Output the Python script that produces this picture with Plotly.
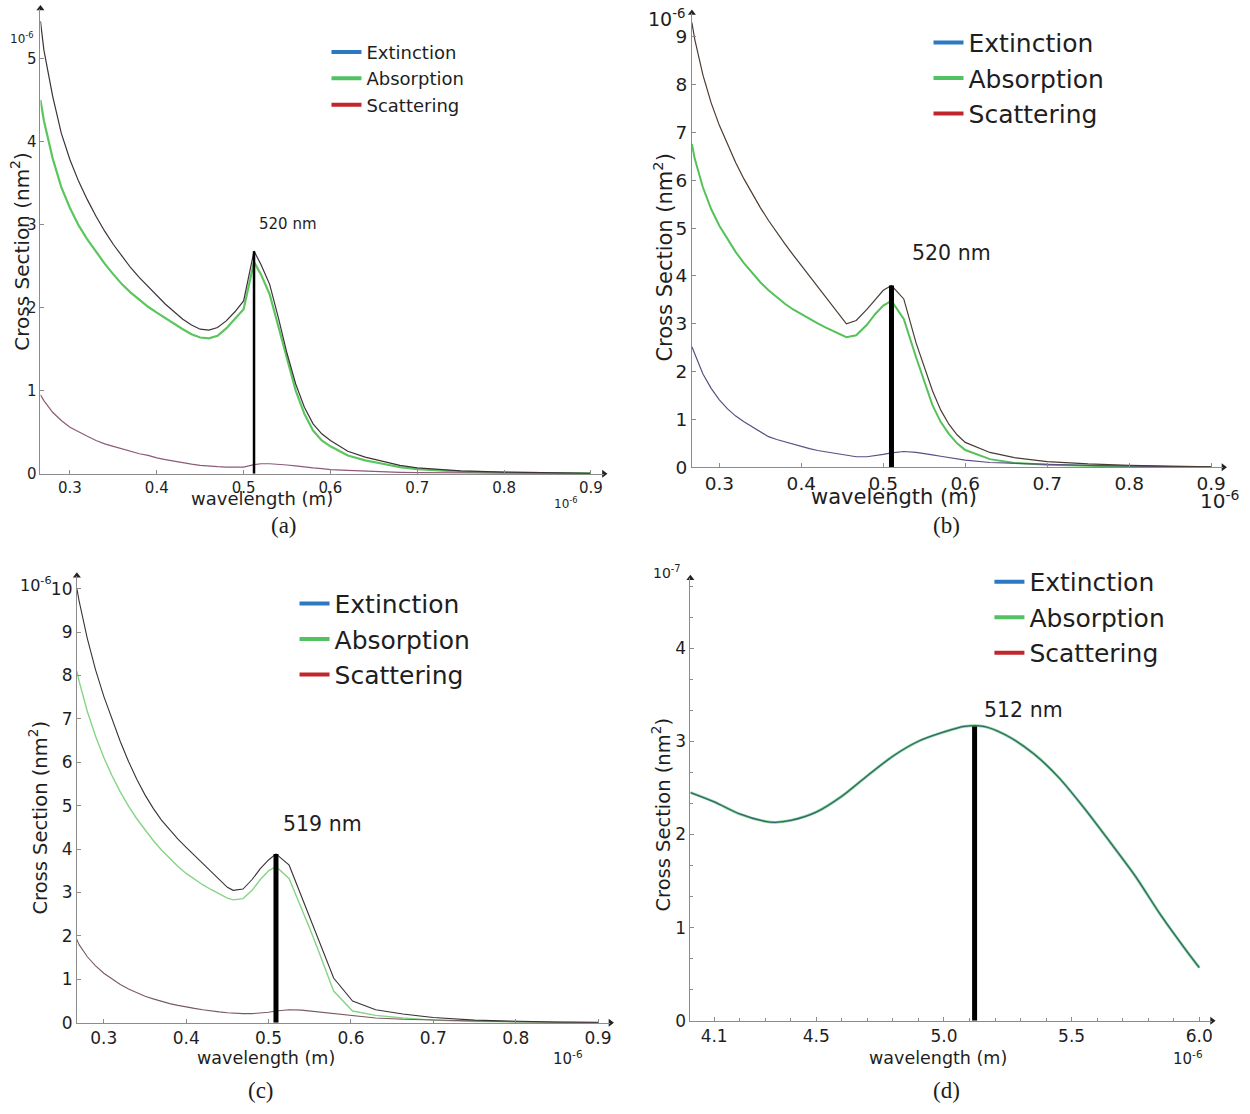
import plotly.graph_objects as go

W, H = 1250, 1114

# ---------------- data ----------------
series_names = ["Extinction", "Absorption", "Scattering"]
legend_colors = ["#2b79c2", "#52c162", "#c1262c"]

# panel (a)
wl_a = [0.266, 0.27, 0.28, 0.29, 0.30, 0.31, 0.32, 0.33, 0.34, 0.35, 0.36, 0.37, 0.38, 0.39, 0.40,
        0.41, 0.42, 0.43, 0.44, 0.45, 0.46, 0.47, 0.48, 0.49, 0.50, 0.512, 0.52, 0.53, 0.54, 0.55,
        0.56, 0.57, 0.58, 0.59, 0.60, 0.62, 0.64, 0.66, 0.68, 0.70, 0.75, 0.80, 0.85, 0.90]
ext_a = [5.45, 5.1, 4.55, 4.1, 3.78, 3.52, 3.3, 3.1, 2.92, 2.76, 2.62, 2.48, 2.36, 2.25, 2.14,
         2.04, 1.95, 1.86, 1.79, 1.74, 1.73, 1.76, 1.84, 1.95, 2.08, 2.68, 2.52, 2.28, 1.88, 1.45,
         1.08, 0.8, 0.6, 0.48, 0.4, 0.27, 0.2, 0.15, 0.1, 0.07, 0.035, 0.02, 0.01, 0.005]
abs_a = [4.5, 4.25, 3.8, 3.45, 3.2, 2.99, 2.82, 2.67, 2.53, 2.4, 2.28, 2.18, 2.09, 2.01, 1.94,
         1.87, 1.8, 1.74, 1.68, 1.64, 1.63, 1.66, 1.75, 1.86, 1.98, 2.55, 2.4, 2.16, 1.77, 1.36,
         1.0, 0.72, 0.52, 0.4, 0.33, 0.22, 0.16, 0.12, 0.08, 0.055, 0.025, 0.012, 0.006, 0.003]
sca_a = [0.95, 0.88, 0.74, 0.64, 0.56, 0.5, 0.45, 0.4, 0.36, 0.33, 0.3, 0.27, 0.24, 0.22, 0.19,
         0.17, 0.15, 0.13, 0.115, 0.1, 0.09, 0.085, 0.08, 0.08, 0.08, 0.11, 0.12, 0.12, 0.115, 0.105,
         0.095, 0.08, 0.07, 0.06, 0.05, 0.04, 0.03, 0.022, 0.017, 0.013, 0.008, 0.005, 0.003, 0.002]

# panel (b)
wl_b = [0.2665, 0.27, 0.28, 0.29, 0.30, 0.31, 0.32, 0.33, 0.34, 0.35, 0.36, 0.37, 0.38, 0.39, 0.40,
        0.41, 0.42, 0.43, 0.44, 0.45, 0.455, 0.467, 0.48, 0.49, 0.50, 0.51, 0.525, 0.54, 0.55, 0.56,
        0.57, 0.58, 0.59, 0.60, 0.63, 0.66, 0.70, 0.75, 0.80, 0.85, 0.90]
ext_b = [9.3, 8.95, 8.2, 7.62, 7.15, 6.74, 6.37, 6.03, 5.72, 5.43, 5.16, 4.91, 4.67, 4.44, 4.22,
         4.0, 3.78, 3.55, 3.32, 3.1, 3.0, 3.07, 3.3, 3.5, 3.7, 3.8, 3.52, 2.6, 2.1, 1.6,
         1.2, 0.9, 0.68, 0.52, 0.31, 0.2, 0.12, 0.07, 0.04, 0.02, 0.01]
abs_b = [6.76, 6.45, 5.85, 5.4, 5.05, 4.76, 4.5, 4.27, 4.06, 3.87, 3.7, 3.55, 3.42, 3.3, 3.2,
         3.1, 3.01, 2.92, 2.84, 2.76, 2.72, 2.76, 2.98, 3.2, 3.38, 3.48, 3.1, 2.3, 1.78, 1.3,
         0.95, 0.7, 0.5, 0.36, 0.17, 0.09, 0.05, 0.025, 0.012, 0.006, 0.003]
sca_b = [2.52, 2.38, 1.95, 1.65, 1.41, 1.22, 1.07, 0.95, 0.85, 0.74, 0.64, 0.58, 0.53, 0.48, 0.43,
         0.39, 0.35, 0.32, 0.29, 0.26, 0.25, 0.22, 0.22, 0.24, 0.27, 0.3, 0.33, 0.31, 0.29, 0.26,
         0.23, 0.2, 0.17, 0.15, 0.1, 0.08, 0.06, 0.04, 0.02, 0.012, 0.006]

# panel (c)
wl_c = [0.2673, 0.27, 0.28, 0.29, 0.30, 0.31, 0.32, 0.33, 0.34, 0.35, 0.36, 0.37, 0.38, 0.39, 0.40,
        0.41, 0.42, 0.43, 0.44, 0.45, 0.457, 0.469, 0.48, 0.49, 0.50, 0.509, 0.525, 0.54, 0.55, 0.56,
        0.57, 0.579, 0.602, 0.63, 0.663, 0.70, 0.75, 0.80, 0.85, 0.90]
ext_c = [10.0, 9.72, 8.85, 8.13, 7.52, 6.99, 6.48, 6.02, 5.61, 5.25, 4.94, 4.67, 4.44, 4.23, 4.04,
         3.86, 3.68, 3.5, 3.31, 3.12, 3.05, 3.08, 3.3, 3.55, 3.75, 3.89, 3.63, 2.91, 2.43, 1.94,
         1.46, 1.03, 0.5, 0.3, 0.2, 0.12, 0.06, 0.03, 0.015, 0.008]
abs_c = [8.1, 7.87, 7.17, 6.6, 6.11, 5.69, 5.32, 4.99, 4.7, 4.44, 4.2, 3.98, 3.78, 3.6, 3.44,
         3.3, 3.18, 3.07, 2.97, 2.87, 2.83, 2.86, 3.05, 3.3, 3.5, 3.6, 3.32, 2.65, 2.17, 1.69,
         1.2, 0.73, 0.27, 0.17, 0.11, 0.06, 0.03, 0.012, 0.006, 0.003]
sca_c = [1.92, 1.8, 1.52, 1.31, 1.14, 1.0, 0.88, 0.78, 0.69, 0.61, 0.55, 0.49, 0.44, 0.4, 0.36,
         0.33, 0.3, 0.27, 0.25, 0.23, 0.22, 0.21, 0.21, 0.22, 0.24, 0.27, 0.3, 0.29, 0.27, 0.25,
         0.22, 0.2, 0.15, 0.11, 0.08, 0.06, 0.04, 0.02, 0.01, 0.005]

# panel (d)
wl_d = [4.007, 4.1, 4.2, 4.3, 4.34, 4.4, 4.5, 4.6, 4.7, 4.8, 4.9, 5.0, 5.08, 5.155, 5.24, 5.35,
        5.45, 5.55, 5.65, 5.75, 5.85, 5.95, 6.0]
ext_d = [2.45, 2.35, 2.22, 2.14, 2.13, 2.15, 2.24, 2.41, 2.63, 2.84, 3.0, 3.1, 3.16, 3.16, 3.07,
         2.87, 2.61, 2.28, 1.92, 1.55, 1.13, 0.75, 0.57]
abs_d = [2.45, 2.35, 2.22, 2.14, 2.13, 2.15, 2.24, 2.41, 2.63, 2.84, 3.0, 3.1, 3.16, 3.16, 3.07,
         2.87, 2.61, 2.28, 1.92, 1.55, 1.13, 0.75, 0.57]

# resonance markers
peak_labels = ["520 nm", "520 nm", "519 nm", "512 nm"]
peak_wl = [0.512, 0.510, 0.509, 5.12]
peak_cs = [2.68, 3.8, 3.89, 3.16]

# tick labels
xticks_vis = [0.3, 0.4, 0.5, 0.6, 0.7, 0.8, 0.9]
xticks_vis_text = ["0.3", "0.4", "0.5", "0.6", "0.7", "0.8", "0.9"]
xticks_d = [4.1, 4.5, 5.0, 5.5, 6.0]
xticks_d_text = ["4.1", "4.5", "5.0", "5.5", "6.0"]
yticks_a = [0, 1, 2, 3, 4, 5]
yticks_b = [0, 1, 2, 3, 4, 5, 6, 7, 8, 9]
yticks_c = [0, 1, 2, 3, 4, 5, 6, 7, 8, 9, 10]
yticks_d = [0, 1, 2, 3, 4]

panel_letters = ["(a)", "(b)", "(c)", "(d)"]
y_exponents = ["10<sup>-6</sup>", "10<sup>-6</sup>", "10<sup>-6</sup>", "10<sup>-7</sup>"]

# ---------------- layout helpers ----------------
FONT = "DejaVu Sans"
SERIF = "Liberation Serif"
AXC = "#8c8c8c"
TXT = "#1e1e1e"


def px(xp):
    return xp / W


def py(yp):
    return 1 - yp / H


panels = [
    dict(box=(40.5, 604.9, 478, 8.7), xr=(0.266, 0.915), yr=(0, 5.6), xt=xticks_vis, xtt=xticks_vis_text,
         yt=yticks_a, tf=15, data=(wl_a, ext_a, abs_a, sca_a), pw=2.5,
         colors=("#3d3238", "#5cc65e", "#8c5a78"), widths=(1.2, 2.2, 1.2),
         ytitle=(20, 253, 20), xtitle=(262, 503, 18), xexp=(567, 508, 12), yexp=(22, 38, 12),
         plabel=(288, 226, 15), letter=(284, 530), legend=(327, 34, 18)),
    dict(box=(693.0, 1225.4, 471.5, 13.1), xr=(0.2665, 0.915), yr=(0, 9.5), xt=xticks_vis, xtt=xticks_vis_text,
         yt=yticks_b, tf=18.5, data=(wl_b, ext_b, abs_b, sca_b), pw=5,
         colors=("#4a3c32", "#55c259", "#5d4d82"), widths=(1.2, 2.0, 1.2),
         ytitle=(664, 260, 21), xtitle=(895, 502, 21), xexp=(1222, 505, 20), yexp=(668, 18, 19),
         plabel=(953, 255, 20.5), letter=(948, 530), legend=(930, 20, 25)),
    dict(box=(77.0, 611.4, 1032, 580.9), xr=(0.2673, 0.915), yr=(0, 10.3), xt=xticks_vis, xtt=xticks_vis_text,
         yt=yticks_c, tf=17, data=(wl_c, ext_c, abs_c, sca_c), pw=5,
         colors=("#3a3336", "#86d486", "#7a5a62"), widths=(1.1, 1.4, 1.1),
         ytitle=(38, 825, 19.5), xtitle=(266, 1068, 17.5), xexp=(569, 1068, 15), yexp=(36, 590, 16),
         plabel=(323, 831, 20.5), letter=(261, 1100), legend=(295, 586, 25)),
    dict(box=(691.5, 1214.0, 1030, 583.5), xr=(4.007, 6.05), yr=(0, 4.75), xt=xticks_d, xtt=xticks_d_text,
         yt=yticks_d, tf=17, data=(wl_d, ext_d, abs_d, None), pw=5,
         colors=("#2f6470", "#86d491", None), widths=(1.3, 2.8, 0),
         ytitle=(662, 822, 19.5), xtitle=(940, 1068, 17.5), xexp=(1190, 1068, 15), yexp=(668, 577, 14),
         plabel=(1025, 716, 20.5), letter=(948, 1100), legend=(991, 564, 25)),
]

fig = go.Figure()
layout = dict(width=W, height=H, margin=dict(l=0, r=0, t=0, b=0), paper_bgcolor="white",
              plot_bgcolor="white", showlegend=True, font=dict(family=FONT, color=TXT))
annotations = []


def note(x, y, text, size, family=FONT, angle=0):
    annotations.append(dict(x=px(x), y=py(y), xref="paper", yref="paper", showarrow=False,
                            xanchor="center", yanchor="middle", text=text, textangle=angle,
                            font=dict(family=family, size=size, color=TXT)))


for i, p in enumerate(panels):
    n = "" if i == 0 else str(i + 1)
    xa, ya = "x" + n, "y" + n
    x0, x1, yb, ytp = p["box"]
    axis_common = dict(showline=True, linecolor=AXC, linewidth=1, ticks="inside", ticklen=4,
                       tickcolor=AXC, showgrid=False, zeroline=False,
                       tickfont=dict(family=FONT, size=p["tf"], color=TXT), fixedrange=True)
    xaxis = dict(domain=[px(x0), px(x1)], range=list(p["xr"]), anchor=ya, tickmode="array",
                 tickvals=p["xt"], ticktext=p["xtt"], **axis_common)
    yaxis = dict(domain=[py(yb), py(ytp)], range=list(p["yr"]), anchor=xa, tickmode="array",
                 tickvals=p["yt"], ticktext=[str(v) for v in p["yt"]], **axis_common)
    if i == 3:
        xaxis["minor"] = dict(tickmode="linear", tick0=4.0, dtick=0.1, ticks="inside", ticklen=3,
                              tickcolor=AXC)
        yaxis["minor"] = dict(tickmode="linear", tick0=0, dtick=1 / 3, ticks="inside", ticklen=3,
                              tickcolor=AXC)
    layout["xaxis" + n] = xaxis
    layout["yaxis" + n] = yaxis

    wl, ext, ab, sc = p["data"]
    c_ext, c_abs, c_sca = p["colors"]
    w_ext, w_abs, w_sca = p["widths"]
    shape = dict(shape="spline", smoothing=0.8) if i == 3 else dict(shape="linear")
    fig.add_trace(go.Scatter(x=wl, y=ab, mode="lines", xaxis=xa, yaxis=ya, showlegend=False,
                             line=dict(color=c_abs, width=w_abs, **shape), hoverinfo="skip"))
    if sc is not None:
        fig.add_trace(go.Scatter(x=wl, y=sc, mode="lines", xaxis=xa, yaxis=ya, showlegend=False,
                                 line=dict(color=c_sca, width=w_sca, **shape), hoverinfo="skip"))
    fig.add_trace(go.Scatter(x=wl, y=ext, mode="lines", xaxis=xa, yaxis=ya, showlegend=False,
                             line=dict(color=c_ext, width=w_ext, **shape), hoverinfo="skip"))

    # resonance marker line
    fig.add_trace(go.Scatter(x=[peak_wl[i], peak_wl[i]], y=[0, peak_cs[i]], mode="lines", xaxis=xa,
                             yaxis=ya, showlegend=False, line=dict(color="black", width=p["pw"]),
                             hoverinfo="skip"))

    # axis arrowheads
    fig.add_trace(go.Scatter(x=[p["xr"][1]], y=[p["yr"][0]], mode="markers", xaxis=xa, yaxis=ya,
                             showlegend=False, cliponaxis=False, hoverinfo="skip",
                             marker=dict(symbol="triangle-right", size=7, color="#222")))
    fig.add_trace(go.Scatter(x=[p["xr"][0]], y=[p["yr"][1]], mode="markers", xaxis=xa, yaxis=ya,
                             showlegend=False, cliponaxis=False, hoverinfo="skip",
                             marker=dict(symbol="triangle-up", size=7, color="#222")))

    # legend entries
    lg = "legend" + n
    for name, col in zip(series_names, legend_colors):
        fig.add_trace(go.Scatter(x=[None], y=[None], mode="lines", name=name, legend=lg, xaxis=xa,
                                 yaxis=ya, line=dict(color=col, width=4), showlegend=True))
    lx, ly, lf = p["legend"]
    layout[lg] = dict(x=px(lx), y=py(ly), xanchor="left", yanchor="top", bgcolor="rgba(0,0,0,0)",
                      borderwidth=0, itemwidth=30, tracegroupgap=0, itemclick=False,
                      itemdoubleclick=False, font=dict(family=FONT, size=lf, color=TXT))

    # texts
    tx, ty, tfz = p["ytitle"]
    note(tx, ty, "Cross Section (nm<sup>2</sup>)", tfz, angle=-90)
    tx, ty, tfz = p["xtitle"]
    note(tx, ty, "wavelength (m)", tfz)
    tx, ty, tfz = p["xexp"]
    note(tx, ty, "10<sup>-6</sup>", tfz)
    tx, ty, tfz = p["yexp"]
    note(tx, ty, y_exponents[i], tfz)
    tx, ty, tfz = p["plabel"]
    note(tx, ty, peak_labels[i], tfz)
    tx, ty = p["letter"]
    note(tx, ty, panel_letters[i], 23, family=SERIF)

layout["annotations"] = annotations
fig.update_layout(**layout)
fig.write_html("out.html")
